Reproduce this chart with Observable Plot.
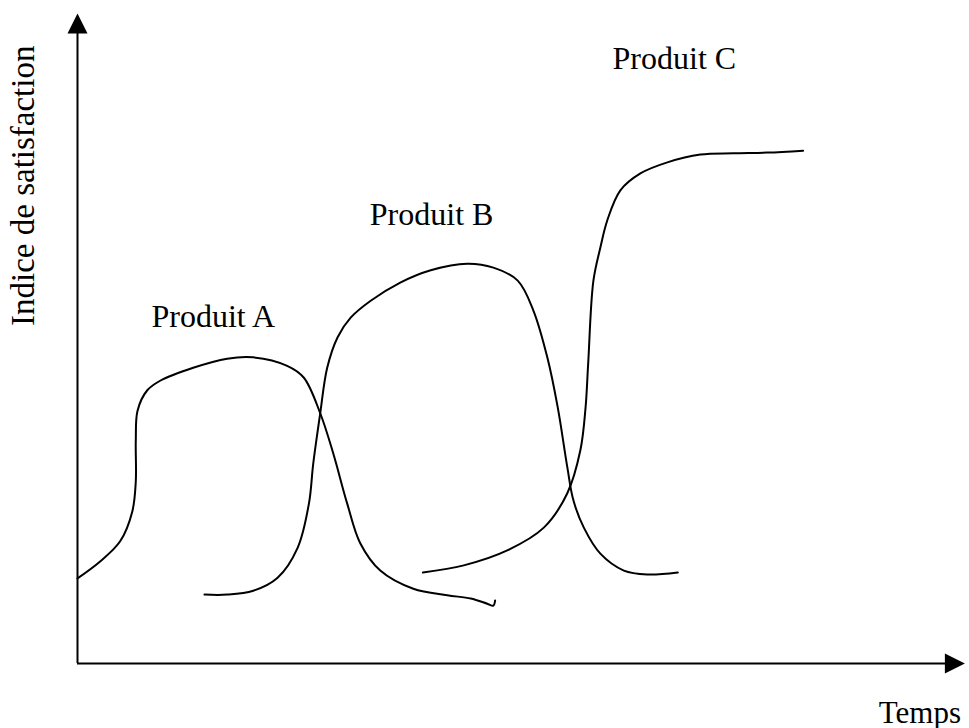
<!DOCTYPE html>
<html>
<head>
<meta charset="utf-8">
<script src="https://cdn.jsdelivr.net/npm/d3@7"></script>
<script src="https://cdn.jsdelivr.net/npm/@observablehq/plot@0.6"></script>
<style>
  html, body { margin: 0; padding: 0; background: #fff; }
  svg { display: block; overflow: visible; }
  svg text { font-family: "Liberation Serif", "Times New Roman", serif !important; }
</style>
</head>
<body>
<div id="chart"></div>
<script>
// Temps (0–100) and Indice de satisfaction (0–100)
const produitA_temps  = [0, 2.6, 4.9, 6.3, 6.7, 6.7, 6.9, 8.0, 9.5, 13.3, 17.2, 20.2, 24.1, 26.0, 27.9, 29.4, 31.0, 32.5, 34.8, 38.6, 42.5, 45.2, 47.1, 47.8, 48.0];
const produitA_indice = [13.1, 15.7, 18.8, 23.4, 28.0, 34.3, 38.9, 42.0, 43.5, 45.5, 46.9, 47.1, 45.8, 44.0, 38.5, 32.3, 24.6, 18.5, 14.3, 11.5, 10.5, 10.0, 9.2, 8.9, 9.7];

const produitB_temps  = [14.6, 17.2, 20.2, 23.0, 25.3, 26.6, 27.1, 27.9, 28.7, 29.9, 31.4, 33.7, 37.1, 40.6, 44.8, 47.8, 50.6, 52.4, 54.0, 55.2, 56.3, 57.0, 58.2, 60.1, 62.8, 65.5, 69.0];
const produitB_indice = [10.6, 10.6, 11.2, 13.2, 17.8, 24.6, 30.8, 38.5, 45.5, 50.2, 53.2, 55.8, 58.6, 60.5, 61.5, 60.9, 58.9, 54.3, 47.1, 39.4, 30.2, 25.1, 20.9, 16.9, 14.3, 13.7, 14.0];

const produitC_temps  = [39.7, 44.4, 49.4, 53.6, 56.3, 57.8, 58.4, 58.7, 59.3, 60.1, 60.9, 62.4, 64.7, 67.8, 71.6, 75.4, 79.3, 83.4];
const produitC_indice = [14.0, 15.1, 17.4, 20.9, 26.2, 32.8, 39.4, 46.2, 58.9, 64.0, 68.2, 72.8, 75.4, 77.1, 78.3, 78.5, 78.6, 78.9];

const produits = ["Produit A", "Produit B", "Produit C"];
const label_temps  = [8.5, 33.6, 61.5];
const label_indice = [51.7, 67.5, 91.5];

const axisTitleX = "Temps";
const axisTitleY = "Indice de satisfaction";

const series = [
  [produitA_temps, produitA_indice, produits[0]],
  [produitB_temps, produitB_indice, produits[1]],
  [produitC_temps, produitC_indice, produits[2]]
].flatMap(([xs, ys, name]) => xs.map((t, i) => ({temps: t, indice: ys[i], produit: name})));

const labels = produits.map((p, i) => ({produit: p, temps: label_temps[i], indice: label_indice[i]}));

// Filled arrowhead with its tip at the origin, pointing up
const arrowHead = {
  draw(context) {
    context.moveTo(0, 0);
    context.lineTo(10, 20);
    context.lineTo(-10, 20);
    context.closePath();
  }
};

const font = "Liberation Serif, Times New Roman, serif";

const chart = Plot.plot({
  width: 969,
  height: 728,
  marginLeft: 77,
  marginRight: 22,
  marginTop: 13,
  marginBottom: 65,
  x: {domain: [0, 100], axis: null},
  y: {domain: [0, 100], axis: null},
  style: {background: "#fff"},
  marks: [
    Plot.ruleX([0], {y1: 0, y2: 97, stroke: "black", strokeWidth: 2}),
    Plot.ruleY([0], {x1: 0, x2: 100, stroke: "black", strokeWidth: 2}),
    Plot.dot([{x: 0, y: 100}], {x: "x", y: "y", symbol: arrowHead, fill: "black", stroke: null}),
    Plot.dot([{x: 102, y: 0}], {x: "x", y: "y", symbol: arrowHead, fill: "black", stroke: null, rotate: 90}),
    Plot.line(series, {x: "temps", y: "indice", z: "produit", curve: "catmull-rom", stroke: "black", strokeWidth: 2}),
    Plot.text(labels, {x: "temps", y: "indice", text: "produit", textAnchor: "start", lineAnchor: "bottom", fontSize: 32, fontFamily: font, fill: "black"}),
    Plot.text([axisTitleX], {x: 92.1, y: -9.1, text: d => d, textAnchor: "start", lineAnchor: "bottom", fontSize: 31, fontFamily: font, fill: "black"}),
    Plot.text([axisTitleY], {x: -6.2, y: 73.5, text: d => d, rotate: -90, textAnchor: "middle", lineAnchor: "middle", fontSize: 33, fontFamily: font, fill: "black"})
  ]
});

document.getElementById("chart").appendChild(chart);
</script>
</body>
</html>
